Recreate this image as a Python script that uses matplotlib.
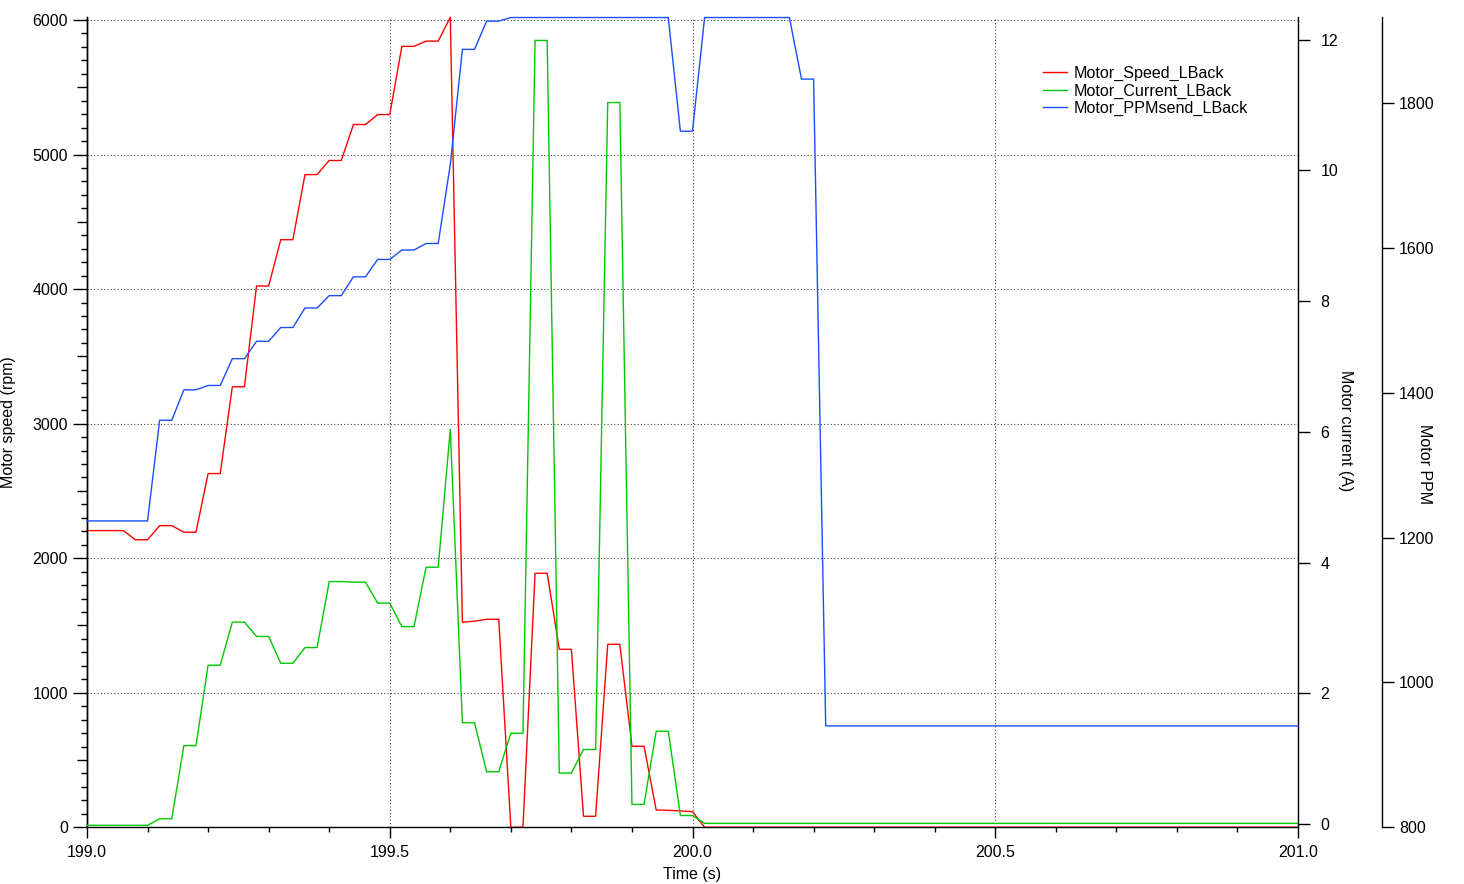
import numpy as np
import matplotlib
matplotlib.use("Agg")
import matplotlib.pyplot as plt
from matplotlib.ticker import FixedLocator, MultipleLocator, FormatStrFormatter, NullFormatter

plt.rcParams['font.family'] = ['Liberation Sans', 'DejaVu Sans']
plt.rcParams['font.size'] = 11.5

# ---------------- data (sampled every 0.02 s) ----------------
time_s = [round(199.0 + 0.02 * i, 2) for i in range(101)]

speed_rpm = ([2205] * 4 + [2137] * 2 + [2242] * 2 + [2193] * 2 + [2629] * 2 + [3274] * 2
             + [4023] * 2 + [4367] * 2 + [4851] * 2 + [4956] * 2 + [5223] * 2 + [5297] * 2
             + [5804] * 2 + [5843] * 2 + [6020]
             + [1524, 1532, 1546, 1546] + [0] * 2 + [1888] * 2 + [1323] * 2 + [82] * 2
             + [1360] * 2 + [602] * 2 + [129, 126, 122, 116] + [0] * 50)

current_A = ([-0.02] * 6 + [0.08] * 2 + [1.20] * 2 + [2.43] * 2 + [3.09] * 2 + [2.87] * 2
             + [2.46] * 2 + [2.70] * 2 + [3.71, 3.71, 3.70, 3.70] + [3.38] * 2 + [3.02] * 2
             + [3.93] * 2 + [6.04] + [1.55] * 2 + [0.80] * 2 + [1.39] * 2 + [11.99] * 2
             + [0.78] * 2 + [1.14] * 2 + [11.04] * 2 + [0.30] * 2 + [1.42] * 2 + [0.13] * 2
             + [0.01] * 50)

ppm = ([1223] * 6 + [1362] * 2 + [1404] * 2 + [1410] * 2 + [1447] * 2 + [1471] * 2
       + [1490] * 2 + [1517] * 2 + [1534] * 2 + [1560] * 2 + [1584] * 2 + [1597] * 2
       + [1606] * 2 + [1715] + [1874] * 2 + [1913] * 2 + [1918] * 14 + [1761] * 2
       + [1918] * 8 + [1833] * 2 + [940] * 40)

series_labels = ['Motor_Speed_LBack', 'Motor_Current_LBack', 'Motor_PPMsend_LBack']
speed_ticks = [0, 1000, 2000, 3000, 4000, 5000, 6000]
current_ticks = [0, 2, 4, 6, 8, 10, 12]
ppm_ticks = [800, 1000, 1200, 1400, 1600, 1800]
time_ticks = [199.0, 199.5, 200.0, 200.5, 201.0]

# ---------------- figure layout ----------------
W, H = 1464, 884
fig = plt.figure(figsize=(W / 100, H / 100), dpi=100)
ax_l, ax_r, ax_t, ax_b = 87, 1298, 17.3, 827.3
ax = fig.add_axes([ax_l / W, 1 - ax_b / H, (ax_r - ax_l) / W, (ax_b - ax_t) / H])
ax2 = ax.twinx()
ax3 = ax.twinx()

RED, GREEN, BLUE = '#ff0000', '#00c800', '#1a4dff'
lw = 1.0
l1, = ax.plot(time_s, speed_rpm, color=RED, lw=lw, clip_on=False)
l2, = ax2.plot(time_s, current_A, color=GREEN, lw=lw, clip_on=False)
l3, = ax3.plot(time_s, ppm, color=BLUE, lw=lw, clip_on=False)

ax.set_xlim(199.0, 201.0)
ax.set_ylim(0, 6020)
ax2.set_ylim(-0.05, 12.344)
ax3.set_ylim(800, 1918.3)

# spines
for s in ['top', 'right']:
    ax.spines[s].set_visible(False)
for a in (ax2, ax3):
    for s in ['top', 'left', 'bottom']:
        a.spines[s].set_visible(False)
ax3.spines['right'].set_position(('axes', (1382 - ax_l) / (ax_r - ax_l)))
for a in (ax, ax2, ax3):
    for s in a.spines.values():
        s.set_linewidth(1.0)

# x axis ticks
ax.xaxis.set_major_locator(FixedLocator(time_ticks))
ax.xaxis.set_minor_locator(MultipleLocator(0.1))
ax.xaxis.set_major_formatter(FormatStrFormatter('%.1f'))
ax.tick_params(axis='x', which='major', direction='out', length=8, width=1.0, pad=5)
ax.tick_params(axis='x', which='minor', direction='out', length=3.6, width=1.0)

# left axis ticks
ax.yaxis.set_major_locator(FixedLocator(speed_ticks))
ax.yaxis.set_minor_locator(FixedLocator([v for v in range(0, 6001, 100) if v % 500 != 0]))
ax.tick_params(axis='y', which='major', direction='out', length=10, width=1.0, pad=3.8)
ax.tick_params(axis='y', which='minor', direction='out', length=4.3, width=1.0)
sec = ax.secondary_yaxis('left')
sec.set_yticks([v for v in range(500, 6000, 1000)])
sec.yaxis.set_major_formatter(NullFormatter())
sec.tick_params(axis='y', direction='out', length=7.2, width=1.0)
sec.spines['left'].set_linewidth(1.0)

# current axis
ax2.yaxis.set_major_locator(FixedLocator(current_ticks))
ax2.tick_params(axis='y', direction='out', length=8.6, width=1.0, pad=7.7)

# ppm axis
ax3.yaxis.set_major_locator(FixedLocator(ppm_ticks))
ax3.tick_params(axis='y', direction='out', length=8.3, width=1.0, pad=4)

# grid
ax.grid(True, which='major', color='#444444', linestyle=(0, (1, 2)), linewidth=0.8)

# axis labels
ax.set_xlabel('Time (s)', va='center', ha='center')
ax.xaxis.set_label_coords(0.5, -(875 - ax_b) / (ax_b - ax_t))
ax.set_ylabel('Motor speed (rpm)', rotation=90, rotation_mode='default', ha='center', va='center')
ax.yaxis.set_label_coords((8.5 - ax_l) / (ax_r - ax_l), 0.5)
ax2.set_ylabel('Motor current (A)', rotation=270, rotation_mode='default', ha='center', va='center')
ax2.yaxis.set_label_coords((1346 - ax_l) / (ax_r - ax_l), (ax_b - 431) / (ax_b - ax_t))
ax3.set_ylabel('Motor PPM', rotation=270, rotation_mode='default', ha='center', va='center')
ax3.yaxis.set_label_coords((1425 - ax_l) / (ax_r - ax_l), (ax_b - 464) / (ax_b - ax_t))

# legend
ax3.legend([l1, l2, l3], series_labels, loc='upper left',
           bbox_to_anchor=(1043 / W, 1 - 66 / H), bbox_transform=fig.transFigure,
           frameon=False, borderpad=0, borderaxespad=0, handlelength=1.5,
           handletextpad=0.37, labelspacing=0.14, fontsize=11.6)

fig.savefig('out.png', dpi=100)
